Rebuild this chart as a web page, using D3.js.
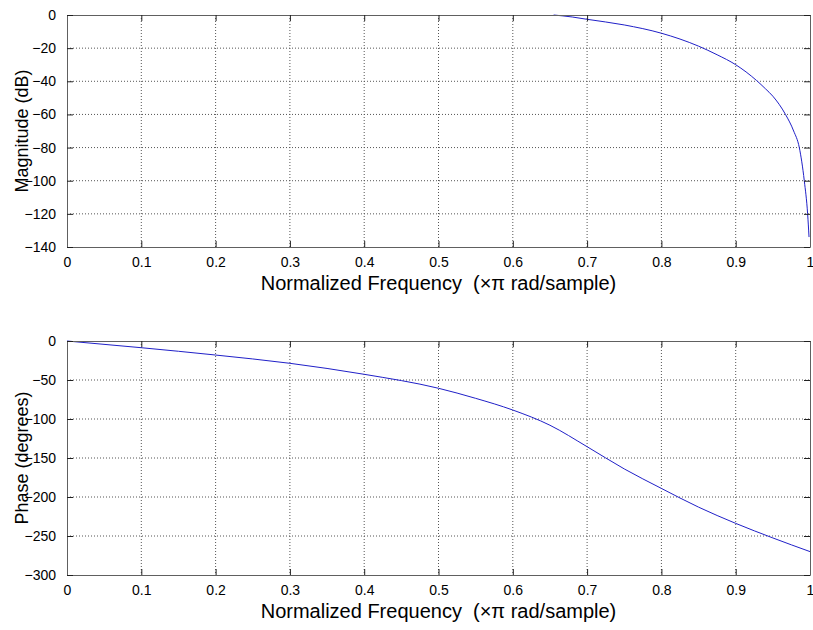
<!DOCTYPE html>
<html>
<head>
<meta charset="utf-8">
<script src="https://cdn.jsdelivr.net/npm/d3@7"></script>
<style>
  body { margin: 0; background: #fff; }
  text { font-family: "Liberation Sans", Arial, sans-serif; fill: #000; }
</style>
</head>
<body>
<script>
// values
const magFreq = [0.655, 0.68, 0.7, 0.75, 0.8, 0.85, 0.875, 0.9, 0.928, 0.94, 0.95, 0.967, 0.978, 0.9856, 0.9923, 0.9968, 0.9987];
const magDb   = [0, -1.2, -2.6, -6, -11, -18.8, -24, -30, -39.5, -44.5, -49, -60, -70, -80, -100, -120, -134];

const phaseFreq = [0, 0.1, 0.2, 0.3, 0.4, 0.5, 0.55, 0.6, 0.65, 0.7, 0.75, 0.8, 0.85, 0.9, 0.95, 1];
const phaseDeg  = [0, -8.6, -18, -28.6, -42.7, -60.6, -73.5, -88.5, -108, -135.5, -164, -189, -213, -233.8, -252.5, -270];

const xTicks = [0, 0.1, 0.2, 0.3, 0.4, 0.5, 0.6, 0.7, 0.8, 0.9, 1];
const magTicks = [0, -20, -40, -60, -80, -100, -120, -140];
const phaseTicks = [0, -50, -100, -150, -200, -250, -300];

const xLabel = "Normalized Frequency  (\u00d7\u03c0 rad/sample)";

let width = 813, height = 630;
let svg = d3.select("body").append("svg")
  .attr("width", width)
  .attr("height", height);

drawPanel({
  top: 15, bottom: 247, left: 67, right: 810,
  xs: magFreq, ys: magDb, yDomain: [-140, 0], yTicks: magTicks,
  yLabel: "Magnitude (dB)"
});
drawPanel({
  top: 341, bottom: 575, left: 67, right: 810,
  xs: phaseFreq, ys: phaseDeg, yDomain: [-300, 0], yTicks: phaseTicks,
  yLabel: "Phase (degrees)"
});

function drawPanel(p) {
  let x = d3.scaleLinear().domain([0, 1]).range([p.left, p.right]);
  let y = d3.scaleLinear().domain(p.yDomain).range([p.bottom, p.top]);
  let g = svg.append("g");

  // grid (dotted)
  g.append("g").selectAll("line")
    .data(xTicks.slice(1, -1)).enter().append("line")
    .attr("x1", d => x(d)).attr("x2", d => x(d))
    .attr("y1", p.top).attr("y2", p.bottom)
    .attr("stroke", "#555").attr("stroke-dasharray", "1,2");
  g.append("g").selectAll("line")
    .data(p.yTicks.slice(1, -1)).enter().append("line")
    .attr("y1", d => y(d)).attr("y2", d => y(d))
    .attr("x1", p.left).attr("x2", p.right)
    .attr("stroke", "#555").attr("stroke-dasharray", "1,2");

  // the curve
  let line = d3.line()
    .x((d, i) => x(p.xs[i]))
    .y(d => y(d))
    .curve(d3.curveMonotoneX);
  g.append("path")
    .datum(p.ys)
    .attr("d", line)
    .attr("fill", "none")
    .attr("stroke", "#2020c8")
    .attr("stroke-width", 1);

  // axes, ticks inward like matlab
  let bottomAx = g.append("g")
    .attr("transform", `translate(0, ${p.bottom})`)
    .call(d3.axisBottom(x).tickValues(xTicks).tickSizeInner(-6).tickSizeOuter(0)
      .tickPadding(10).tickFormat(d3.format("")));
  let topAx = g.append("g")
    .attr("transform", `translate(0, ${p.top})`)
    .call(d3.axisTop(x).tickValues(xTicks).tickSizeInner(-6).tickSizeOuter(0).tickFormat(""));
  let leftAx = g.append("g")
    .attr("transform", `translate(${p.left}, 0)`)
    .call(d3.axisLeft(y).tickValues(p.yTicks).tickSizeInner(-6).tickSizeOuter(0)
      .tickPadding(11).tickFormat(d3.format("")));
  let rightAx = g.append("g")
    .attr("transform", `translate(${p.right}, 0)`)
    .call(d3.axisRight(y).tickValues(p.yTicks).tickSizeInner(-6).tickSizeOuter(0).tickFormat(""));

  [bottomAx, topAx, leftAx, rightAx].forEach(a => {
    a.select(".domain").attr("stroke", "#606060");
    a.selectAll(".tick line").attr("stroke", "#202020");
    a.selectAll("text").attr("font-size", 14)
      .attr("font-family", "'Liberation Sans', Arial, sans-serif").attr("fill", "#000");
  });

  g.append("text")
    .attr("x", (p.left + p.right) / 2)
    .attr("y", p.bottom + 43)
    .attr("text-anchor", "middle")
    .attr("font-size", 20)
    .style("white-space", "pre")
    .text(xLabel);

  g.append("text")
    .attr("transform", `translate(28, ${(p.top + p.bottom) / 2}) rotate(-90)`)
    .attr("text-anchor", "middle")
    .attr("font-size", 18)
    .text(p.yLabel);
}
</script>
</body>
</html>
